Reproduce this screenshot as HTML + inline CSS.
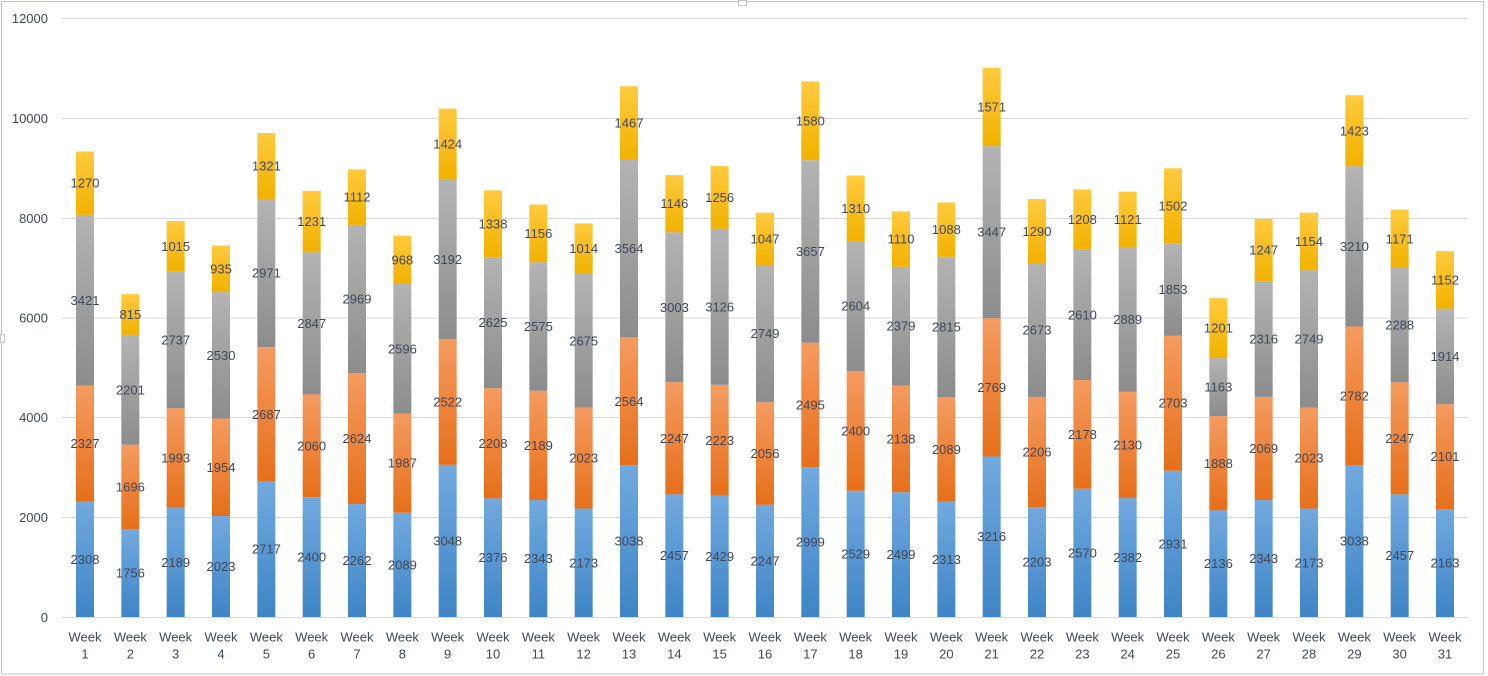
<!DOCTYPE html>
<html><head><meta charset="utf-8"><style>
html,body{margin:0;padding:0;background:#fff;}
svg{display:block;}
text{font-family:"Liberation Sans",sans-serif;font-size:13px;fill:#404756;}
</style></head><body>
<svg width="1488" height="676" viewBox="0 0 1488 676" xmlns="http://www.w3.org/2000/svg">
<defs>
<linearGradient id="gb" x1="0" y1="0" x2="0" y2="1"><stop offset="0" stop-color="#3e85c6"/><stop offset="1" stop-color="#72a9de"/></linearGradient>
<linearGradient id="go" x1="0" y1="0" x2="0" y2="1"><stop offset="0" stop-color="#e66f1a"/><stop offset="1" stop-color="#f59b60"/></linearGradient>
<linearGradient id="gg" x1="0" y1="0" x2="0" y2="1"><stop offset="0" stop-color="#8c8c8c"/><stop offset="1" stop-color="#b4b4b4"/></linearGradient>
<linearGradient id="gy" x1="0" y1="0" x2="0" y2="1"><stop offset="0" stop-color="#f1b200"/><stop offset="1" stop-color="#ffca3e"/></linearGradient>
</defs>
<rect x="0" y="0" width="1488" height="676" fill="#fff"/>
<rect x="1.5" y="1.5" width="1482" height="672.5" fill="none" stroke="#c4c4c4" stroke-width="1"/>
<rect x="738.5" y="0.5" width="8" height="5" fill="#fff" stroke="#c4c4c4"/>
<rect x="0.5" y="334.5" width="4" height="8" fill="#fff" stroke="#c4c4c4"/>
<g stroke="#d9d9d9" stroke-width="1">
<line x1="62" x2="1468" y1="18.5" y2="18.5"/>
<line x1="62" x2="1468" y1="118.5" y2="118.5"/>
<line x1="62" x2="1468" y1="218.5" y2="218.5"/>
<line x1="62" x2="1468" y1="318" y2="318"/>
<line x1="62" x2="1468" y1="417.5" y2="417.5"/>
<line x1="62" x2="1468" y1="517.5" y2="517.5"/>
<line x1="62" x2="1468" y1="617.5" y2="617.5"/>
</g>
<g text-anchor="end">
<text x="48" y="23">12000</text>
<text x="48" y="123">10000</text>
<text x="48" y="223">8000</text>
<text x="48" y="322.5">6000</text>
<text x="48" y="422">4000</text>
<text x="48" y="522">2000</text>
<text x="48" y="622">0</text>
</g>
<g transform="translate(0,617) scale(1,-0.0499167)" text-anchor="middle">
<g transform="translate(85,0)"><rect x="-9" width="18" y="0" height="2308" fill="url(#gb)"/><rect x="-9" width="18" y="2308" height="2327" fill="url(#go)"/><rect x="-9" width="18" y="4635" height="3421" fill="url(#gg)"/><rect x="-9" width="18" y="8056" height="1270" fill="url(#gy)"/><text transform="translate(0,1154) scale(1,-20.0334)" y="4.5">2308</text><text transform="translate(0,3471.5) scale(1,-20.0334)" y="4.5">2327</text><text transform="translate(0,6345.5) scale(1,-20.0334)" y="4.5">3421</text><text transform="translate(0,8691) scale(1,-20.0334)" y="4.5">1270</text></g>
<g transform="translate(130.33,0)"><rect x="-9" width="18" y="0" height="1756" fill="url(#gb)"/><rect x="-9" width="18" y="1756" height="1696" fill="url(#go)"/><rect x="-9" width="18" y="3452" height="2201" fill="url(#gg)"/><rect x="-9" width="18" y="5653" height="815" fill="url(#gy)"/><text transform="translate(0,878) scale(1,-20.0334)" y="4.5">1756</text><text transform="translate(0,2604) scale(1,-20.0334)" y="4.5">1696</text><text transform="translate(0,4552.5) scale(1,-20.0334)" y="4.5">2201</text><text transform="translate(0,6060.5) scale(1,-20.0334)" y="4.5">815</text></g>
<g transform="translate(175.67,0)"><rect x="-9" width="18" y="0" height="2189" fill="url(#gb)"/><rect x="-9" width="18" y="2189" height="1993" fill="url(#go)"/><rect x="-9" width="18" y="4182" height="2737" fill="url(#gg)"/><rect x="-9" width="18" y="6919" height="1015" fill="url(#gy)"/><text transform="translate(0,1094.5) scale(1,-20.0334)" y="4.5">2189</text><text transform="translate(0,3185.5) scale(1,-20.0334)" y="4.5">1993</text><text transform="translate(0,5550.5) scale(1,-20.0334)" y="4.5">2737</text><text transform="translate(0,7426.5) scale(1,-20.0334)" y="4.5">1015</text></g>
<g transform="translate(221,0)"><rect x="-9" width="18" y="0" height="2023" fill="url(#gb)"/><rect x="-9" width="18" y="2023" height="1954" fill="url(#go)"/><rect x="-9" width="18" y="3977" height="2530" fill="url(#gg)"/><rect x="-9" width="18" y="6507" height="935" fill="url(#gy)"/><text transform="translate(0,1011.5) scale(1,-20.0334)" y="4.5">2023</text><text transform="translate(0,3000) scale(1,-20.0334)" y="4.5">1954</text><text transform="translate(0,5242) scale(1,-20.0334)" y="4.5">2530</text><text transform="translate(0,6974.5) scale(1,-20.0334)" y="4.5">935</text></g>
<g transform="translate(266.33,0)"><rect x="-9" width="18" y="0" height="2717" fill="url(#gb)"/><rect x="-9" width="18" y="2717" height="2687" fill="url(#go)"/><rect x="-9" width="18" y="5404" height="2971" fill="url(#gg)"/><rect x="-9" width="18" y="8375" height="1321" fill="url(#gy)"/><text transform="translate(0,1358.5) scale(1,-20.0334)" y="4.5">2717</text><text transform="translate(0,4060.5) scale(1,-20.0334)" y="4.5">2687</text><text transform="translate(0,6889.5) scale(1,-20.0334)" y="4.5">2971</text><text transform="translate(0,9035.5) scale(1,-20.0334)" y="4.5">1321</text></g>
<g transform="translate(311.67,0)"><rect x="-9" width="18" y="0" height="2400" fill="url(#gb)"/><rect x="-9" width="18" y="2400" height="2060" fill="url(#go)"/><rect x="-9" width="18" y="4460" height="2847" fill="url(#gg)"/><rect x="-9" width="18" y="7307" height="1231" fill="url(#gy)"/><text transform="translate(0,1200) scale(1,-20.0334)" y="4.5">2400</text><text transform="translate(0,3430) scale(1,-20.0334)" y="4.5">2060</text><text transform="translate(0,5883.5) scale(1,-20.0334)" y="4.5">2847</text><text transform="translate(0,7922.5) scale(1,-20.0334)" y="4.5">1231</text></g>
<g transform="translate(357,0)"><rect x="-9" width="18" y="0" height="2262" fill="url(#gb)"/><rect x="-9" width="18" y="2262" height="2624" fill="url(#go)"/><rect x="-9" width="18" y="4886" height="2969" fill="url(#gg)"/><rect x="-9" width="18" y="7855" height="1112" fill="url(#gy)"/><text transform="translate(0,1131) scale(1,-20.0334)" y="4.5">2262</text><text transform="translate(0,3574) scale(1,-20.0334)" y="4.5">2624</text><text transform="translate(0,6370.5) scale(1,-20.0334)" y="4.5">2969</text><text transform="translate(0,8411) scale(1,-20.0334)" y="4.5">1112</text></g>
<g transform="translate(402.33,0)"><rect x="-9" width="18" y="0" height="2089" fill="url(#gb)"/><rect x="-9" width="18" y="2089" height="1987" fill="url(#go)"/><rect x="-9" width="18" y="4076" height="2596" fill="url(#gg)"/><rect x="-9" width="18" y="6672" height="968" fill="url(#gy)"/><text transform="translate(0,1044.5) scale(1,-20.0334)" y="4.5">2089</text><text transform="translate(0,3082.5) scale(1,-20.0334)" y="4.5">1987</text><text transform="translate(0,5374) scale(1,-20.0334)" y="4.5">2596</text><text transform="translate(0,7156) scale(1,-20.0334)" y="4.5">968</text></g>
<g transform="translate(447.67,0)"><rect x="-9" width="18" y="0" height="3048" fill="url(#gb)"/><rect x="-9" width="18" y="3048" height="2522" fill="url(#go)"/><rect x="-9" width="18" y="5570" height="3192" fill="url(#gg)"/><rect x="-9" width="18" y="8762" height="1424" fill="url(#gy)"/><text transform="translate(0,1524) scale(1,-20.0334)" y="4.5">3048</text><text transform="translate(0,4309) scale(1,-20.0334)" y="4.5">2522</text><text transform="translate(0,7166) scale(1,-20.0334)" y="4.5">3192</text><text transform="translate(0,9474) scale(1,-20.0334)" y="4.5">1424</text></g>
<g transform="translate(493,0)"><rect x="-9" width="18" y="0" height="2376" fill="url(#gb)"/><rect x="-9" width="18" y="2376" height="2208" fill="url(#go)"/><rect x="-9" width="18" y="4584" height="2625" fill="url(#gg)"/><rect x="-9" width="18" y="7209" height="1338" fill="url(#gy)"/><text transform="translate(0,1188) scale(1,-20.0334)" y="4.5">2376</text><text transform="translate(0,3480) scale(1,-20.0334)" y="4.5">2208</text><text transform="translate(0,5896.5) scale(1,-20.0334)" y="4.5">2625</text><text transform="translate(0,7878) scale(1,-20.0334)" y="4.5">1338</text></g>
<g transform="translate(538.33,0)"><rect x="-9" width="18" y="0" height="2343" fill="url(#gb)"/><rect x="-9" width="18" y="2343" height="2189" fill="url(#go)"/><rect x="-9" width="18" y="4532" height="2575" fill="url(#gg)"/><rect x="-9" width="18" y="7107" height="1156" fill="url(#gy)"/><text transform="translate(0,1171.5) scale(1,-20.0334)" y="4.5">2343</text><text transform="translate(0,3437.5) scale(1,-20.0334)" y="4.5">2189</text><text transform="translate(0,5819.5) scale(1,-20.0334)" y="4.5">2575</text><text transform="translate(0,7685) scale(1,-20.0334)" y="4.5">1156</text></g>
<g transform="translate(583.67,0)"><rect x="-9" width="18" y="0" height="2173" fill="url(#gb)"/><rect x="-9" width="18" y="2173" height="2023" fill="url(#go)"/><rect x="-9" width="18" y="4196" height="2675" fill="url(#gg)"/><rect x="-9" width="18" y="6871" height="1014" fill="url(#gy)"/><text transform="translate(0,1086.5) scale(1,-20.0334)" y="4.5">2173</text><text transform="translate(0,3184.5) scale(1,-20.0334)" y="4.5">2023</text><text transform="translate(0,5533.5) scale(1,-20.0334)" y="4.5">2675</text><text transform="translate(0,7378) scale(1,-20.0334)" y="4.5">1014</text></g>
<g transform="translate(629,0)"><rect x="-9" width="18" y="0" height="3038" fill="url(#gb)"/><rect x="-9" width="18" y="3038" height="2564" fill="url(#go)"/><rect x="-9" width="18" y="5602" height="3564" fill="url(#gg)"/><rect x="-9" width="18" y="9166" height="1467" fill="url(#gy)"/><text transform="translate(0,1519) scale(1,-20.0334)" y="4.5">3038</text><text transform="translate(0,4320) scale(1,-20.0334)" y="4.5">2564</text><text transform="translate(0,7384) scale(1,-20.0334)" y="4.5">3564</text><text transform="translate(0,9899.5) scale(1,-20.0334)" y="4.5">1467</text></g>
<g transform="translate(674.33,0)"><rect x="-9" width="18" y="0" height="2457" fill="url(#gb)"/><rect x="-9" width="18" y="2457" height="2247" fill="url(#go)"/><rect x="-9" width="18" y="4704" height="3003" fill="url(#gg)"/><rect x="-9" width="18" y="7707" height="1146" fill="url(#gy)"/><text transform="translate(0,1228.5) scale(1,-20.0334)" y="4.5">2457</text><text transform="translate(0,3580.5) scale(1,-20.0334)" y="4.5">2247</text><text transform="translate(0,6205.5) scale(1,-20.0334)" y="4.5">3003</text><text transform="translate(0,8280) scale(1,-20.0334)" y="4.5">1146</text></g>
<g transform="translate(719.67,0)"><rect x="-9" width="18" y="0" height="2429" fill="url(#gb)"/><rect x="-9" width="18" y="2429" height="2223" fill="url(#go)"/><rect x="-9" width="18" y="4652" height="3126" fill="url(#gg)"/><rect x="-9" width="18" y="7778" height="1256" fill="url(#gy)"/><text transform="translate(0,1214.5) scale(1,-20.0334)" y="4.5">2429</text><text transform="translate(0,3540.5) scale(1,-20.0334)" y="4.5">2223</text><text transform="translate(0,6215) scale(1,-20.0334)" y="4.5">3126</text><text transform="translate(0,8406) scale(1,-20.0334)" y="4.5">1256</text></g>
<g transform="translate(765,0)"><rect x="-9" width="18" y="0" height="2247" fill="url(#gb)"/><rect x="-9" width="18" y="2247" height="2056" fill="url(#go)"/><rect x="-9" width="18" y="4303" height="2749" fill="url(#gg)"/><rect x="-9" width="18" y="7052" height="1047" fill="url(#gy)"/><text transform="translate(0,1123.5) scale(1,-20.0334)" y="4.5">2247</text><text transform="translate(0,3275) scale(1,-20.0334)" y="4.5">2056</text><text transform="translate(0,5677.5) scale(1,-20.0334)" y="4.5">2749</text><text transform="translate(0,7575.5) scale(1,-20.0334)" y="4.5">1047</text></g>
<g transform="translate(810.33,0)"><rect x="-9" width="18" y="0" height="2999" fill="url(#gb)"/><rect x="-9" width="18" y="2999" height="2495" fill="url(#go)"/><rect x="-9" width="18" y="5494" height="3657" fill="url(#gg)"/><rect x="-9" width="18" y="9151" height="1580" fill="url(#gy)"/><text transform="translate(0,1499.5) scale(1,-20.0334)" y="4.5">2999</text><text transform="translate(0,4246.5) scale(1,-20.0334)" y="4.5">2495</text><text transform="translate(0,7322.5) scale(1,-20.0334)" y="4.5">3657</text><text transform="translate(0,9941) scale(1,-20.0334)" y="4.5">1580</text></g>
<g transform="translate(855.67,0)"><rect x="-9" width="18" y="0" height="2529" fill="url(#gb)"/><rect x="-9" width="18" y="2529" height="2400" fill="url(#go)"/><rect x="-9" width="18" y="4929" height="2604" fill="url(#gg)"/><rect x="-9" width="18" y="7533" height="1310" fill="url(#gy)"/><text transform="translate(0,1264.5) scale(1,-20.0334)" y="4.5">2529</text><text transform="translate(0,3729) scale(1,-20.0334)" y="4.5">2400</text><text transform="translate(0,6231) scale(1,-20.0334)" y="4.5">2604</text><text transform="translate(0,8188) scale(1,-20.0334)" y="4.5">1310</text></g>
<g transform="translate(901,0)"><rect x="-9" width="18" y="0" height="2499" fill="url(#gb)"/><rect x="-9" width="18" y="2499" height="2138" fill="url(#go)"/><rect x="-9" width="18" y="4637" height="2379" fill="url(#gg)"/><rect x="-9" width="18" y="7016" height="1110" fill="url(#gy)"/><text transform="translate(0,1249.5) scale(1,-20.0334)" y="4.5">2499</text><text transform="translate(0,3568) scale(1,-20.0334)" y="4.5">2138</text><text transform="translate(0,5826.5) scale(1,-20.0334)" y="4.5">2379</text><text transform="translate(0,7571) scale(1,-20.0334)" y="4.5">1110</text></g>
<g transform="translate(946.33,0)"><rect x="-9" width="18" y="0" height="2313" fill="url(#gb)"/><rect x="-9" width="18" y="2313" height="2089" fill="url(#go)"/><rect x="-9" width="18" y="4402" height="2815" fill="url(#gg)"/><rect x="-9" width="18" y="7217" height="1088" fill="url(#gy)"/><text transform="translate(0,1156.5) scale(1,-20.0334)" y="4.5">2313</text><text transform="translate(0,3357.5) scale(1,-20.0334)" y="4.5">2089</text><text transform="translate(0,5809.5) scale(1,-20.0334)" y="4.5">2815</text><text transform="translate(0,7761) scale(1,-20.0334)" y="4.5">1088</text></g>
<g transform="translate(991.67,0)"><rect x="-9" width="18" y="0" height="3216" fill="url(#gb)"/><rect x="-9" width="18" y="3216" height="2769" fill="url(#go)"/><rect x="-9" width="18" y="5985" height="3447" fill="url(#gg)"/><rect x="-9" width="18" y="9432" height="1571" fill="url(#gy)"/><text transform="translate(0,1608) scale(1,-20.0334)" y="4.5">3216</text><text transform="translate(0,4600.5) scale(1,-20.0334)" y="4.5">2769</text><text transform="translate(0,7708.5) scale(1,-20.0334)" y="4.5">3447</text><text transform="translate(0,10217.5) scale(1,-20.0334)" y="4.5">1571</text></g>
<g transform="translate(1037,0)"><rect x="-9" width="18" y="0" height="2203" fill="url(#gb)"/><rect x="-9" width="18" y="2203" height="2206" fill="url(#go)"/><rect x="-9" width="18" y="4409" height="2673" fill="url(#gg)"/><rect x="-9" width="18" y="7082" height="1290" fill="url(#gy)"/><text transform="translate(0,1101.5) scale(1,-20.0334)" y="4.5">2203</text><text transform="translate(0,3306) scale(1,-20.0334)" y="4.5">2206</text><text transform="translate(0,5745.5) scale(1,-20.0334)" y="4.5">2673</text><text transform="translate(0,7727) scale(1,-20.0334)" y="4.5">1290</text></g>
<g transform="translate(1082.33,0)"><rect x="-9" width="18" y="0" height="2570" fill="url(#gb)"/><rect x="-9" width="18" y="2570" height="2178" fill="url(#go)"/><rect x="-9" width="18" y="4748" height="2610" fill="url(#gg)"/><rect x="-9" width="18" y="7358" height="1208" fill="url(#gy)"/><text transform="translate(0,1285) scale(1,-20.0334)" y="4.5">2570</text><text transform="translate(0,3659) scale(1,-20.0334)" y="4.5">2178</text><text transform="translate(0,6053) scale(1,-20.0334)" y="4.5">2610</text><text transform="translate(0,7962) scale(1,-20.0334)" y="4.5">1208</text></g>
<g transform="translate(1127.67,0)"><rect x="-9" width="18" y="0" height="2382" fill="url(#gb)"/><rect x="-9" width="18" y="2382" height="2130" fill="url(#go)"/><rect x="-9" width="18" y="4512" height="2889" fill="url(#gg)"/><rect x="-9" width="18" y="7401" height="1121" fill="url(#gy)"/><text transform="translate(0,1191) scale(1,-20.0334)" y="4.5">2382</text><text transform="translate(0,3447) scale(1,-20.0334)" y="4.5">2130</text><text transform="translate(0,5956.5) scale(1,-20.0334)" y="4.5">2889</text><text transform="translate(0,7961.5) scale(1,-20.0334)" y="4.5">1121</text></g>
<g transform="translate(1173,0)"><rect x="-9" width="18" y="0" height="2931" fill="url(#gb)"/><rect x="-9" width="18" y="2931" height="2703" fill="url(#go)"/><rect x="-9" width="18" y="5634" height="1853" fill="url(#gg)"/><rect x="-9" width="18" y="7487" height="1502" fill="url(#gy)"/><text transform="translate(0,1465.5) scale(1,-20.0334)" y="4.5">2931</text><text transform="translate(0,4282.5) scale(1,-20.0334)" y="4.5">2703</text><text transform="translate(0,6560.5) scale(1,-20.0334)" y="4.5">1853</text><text transform="translate(0,8238) scale(1,-20.0334)" y="4.5">1502</text></g>
<g transform="translate(1218.33,0)"><rect x="-9" width="18" y="0" height="2136" fill="url(#gb)"/><rect x="-9" width="18" y="2136" height="1888" fill="url(#go)"/><rect x="-9" width="18" y="4024" height="1163" fill="url(#gg)"/><rect x="-9" width="18" y="5187" height="1201" fill="url(#gy)"/><text transform="translate(0,1068) scale(1,-20.0334)" y="4.5">2136</text><text transform="translate(0,3080) scale(1,-20.0334)" y="4.5">1888</text><text transform="translate(0,4605.5) scale(1,-20.0334)" y="4.5">1163</text><text transform="translate(0,5787.5) scale(1,-20.0334)" y="4.5">1201</text></g>
<g transform="translate(1263.67,0)"><rect x="-9" width="18" y="0" height="2343" fill="url(#gb)"/><rect x="-9" width="18" y="2343" height="2069" fill="url(#go)"/><rect x="-9" width="18" y="4412" height="2316" fill="url(#gg)"/><rect x="-9" width="18" y="6728" height="1247" fill="url(#gy)"/><text transform="translate(0,1171.5) scale(1,-20.0334)" y="4.5">2343</text><text transform="translate(0,3377.5) scale(1,-20.0334)" y="4.5">2069</text><text transform="translate(0,5570) scale(1,-20.0334)" y="4.5">2316</text><text transform="translate(0,7351.5) scale(1,-20.0334)" y="4.5">1247</text></g>
<g transform="translate(1309,0)"><rect x="-9" width="18" y="0" height="2173" fill="url(#gb)"/><rect x="-9" width="18" y="2173" height="2023" fill="url(#go)"/><rect x="-9" width="18" y="4196" height="2749" fill="url(#gg)"/><rect x="-9" width="18" y="6945" height="1154" fill="url(#gy)"/><text transform="translate(0,1086.5) scale(1,-20.0334)" y="4.5">2173</text><text transform="translate(0,3184.5) scale(1,-20.0334)" y="4.5">2023</text><text transform="translate(0,5570.5) scale(1,-20.0334)" y="4.5">2749</text><text transform="translate(0,7522) scale(1,-20.0334)" y="4.5">1154</text></g>
<g transform="translate(1354.33,0)"><rect x="-9" width="18" y="0" height="3038" fill="url(#gb)"/><rect x="-9" width="18" y="3038" height="2782" fill="url(#go)"/><rect x="-9" width="18" y="5820" height="3210" fill="url(#gg)"/><rect x="-9" width="18" y="9030" height="1423" fill="url(#gy)"/><text transform="translate(0,1519) scale(1,-20.0334)" y="4.5">3038</text><text transform="translate(0,4429) scale(1,-20.0334)" y="4.5">2782</text><text transform="translate(0,7425) scale(1,-20.0334)" y="4.5">3210</text><text transform="translate(0,9741.5) scale(1,-20.0334)" y="4.5">1423</text></g>
<g transform="translate(1399.67,0)"><rect x="-9" width="18" y="0" height="2457" fill="url(#gb)"/><rect x="-9" width="18" y="2457" height="2247" fill="url(#go)"/><rect x="-9" width="18" y="4704" height="2288" fill="url(#gg)"/><rect x="-9" width="18" y="6992" height="1171" fill="url(#gy)"/><text transform="translate(0,1228.5) scale(1,-20.0334)" y="4.5">2457</text><text transform="translate(0,3580.5) scale(1,-20.0334)" y="4.5">2247</text><text transform="translate(0,5848) scale(1,-20.0334)" y="4.5">2288</text><text transform="translate(0,7577.5) scale(1,-20.0334)" y="4.5">1171</text></g>
<g transform="translate(1445,0)"><rect x="-9" width="18" y="0" height="2163" fill="url(#gb)"/><rect x="-9" width="18" y="2163" height="2101" fill="url(#go)"/><rect x="-9" width="18" y="4264" height="1914" fill="url(#gg)"/><rect x="-9" width="18" y="6178" height="1152" fill="url(#gy)"/><text transform="translate(0,1081.5) scale(1,-20.0334)" y="4.5">2163</text><text transform="translate(0,3213.5) scale(1,-20.0334)" y="4.5">2101</text><text transform="translate(0,5221) scale(1,-20.0334)" y="4.5">1914</text><text transform="translate(0,6754) scale(1,-20.0334)" y="4.5">1152</text></g>
</g>
<g text-anchor="middle">
<text x="85" y="641.5">Week</text><text x="85" y="658.5">1</text>
<text x="130.33" y="641.5">Week</text><text x="130.33" y="658.5">2</text>
<text x="175.67" y="641.5">Week</text><text x="175.67" y="658.5">3</text>
<text x="221" y="641.5">Week</text><text x="221" y="658.5">4</text>
<text x="266.33" y="641.5">Week</text><text x="266.33" y="658.5">5</text>
<text x="311.67" y="641.5">Week</text><text x="311.67" y="658.5">6</text>
<text x="357" y="641.5">Week</text><text x="357" y="658.5">7</text>
<text x="402.33" y="641.5">Week</text><text x="402.33" y="658.5">8</text>
<text x="447.67" y="641.5">Week</text><text x="447.67" y="658.5">9</text>
<text x="493" y="641.5">Week</text><text x="493" y="658.5">10</text>
<text x="538.33" y="641.5">Week</text><text x="538.33" y="658.5">11</text>
<text x="583.67" y="641.5">Week</text><text x="583.67" y="658.5">12</text>
<text x="629" y="641.5">Week</text><text x="629" y="658.5">13</text>
<text x="674.33" y="641.5">Week</text><text x="674.33" y="658.5">14</text>
<text x="719.67" y="641.5">Week</text><text x="719.67" y="658.5">15</text>
<text x="765" y="641.5">Week</text><text x="765" y="658.5">16</text>
<text x="810.33" y="641.5">Week</text><text x="810.33" y="658.5">17</text>
<text x="855.67" y="641.5">Week</text><text x="855.67" y="658.5">18</text>
<text x="901" y="641.5">Week</text><text x="901" y="658.5">19</text>
<text x="946.33" y="641.5">Week</text><text x="946.33" y="658.5">20</text>
<text x="991.67" y="641.5">Week</text><text x="991.67" y="658.5">21</text>
<text x="1037" y="641.5">Week</text><text x="1037" y="658.5">22</text>
<text x="1082.33" y="641.5">Week</text><text x="1082.33" y="658.5">23</text>
<text x="1127.67" y="641.5">Week</text><text x="1127.67" y="658.5">24</text>
<text x="1173" y="641.5">Week</text><text x="1173" y="658.5">25</text>
<text x="1218.33" y="641.5">Week</text><text x="1218.33" y="658.5">26</text>
<text x="1263.67" y="641.5">Week</text><text x="1263.67" y="658.5">27</text>
<text x="1309" y="641.5">Week</text><text x="1309" y="658.5">28</text>
<text x="1354.33" y="641.5">Week</text><text x="1354.33" y="658.5">29</text>
<text x="1399.67" y="641.5">Week</text><text x="1399.67" y="658.5">30</text>
<text x="1445" y="641.5">Week</text><text x="1445" y="658.5">31</text>
</g>
</svg>
</body></html>
